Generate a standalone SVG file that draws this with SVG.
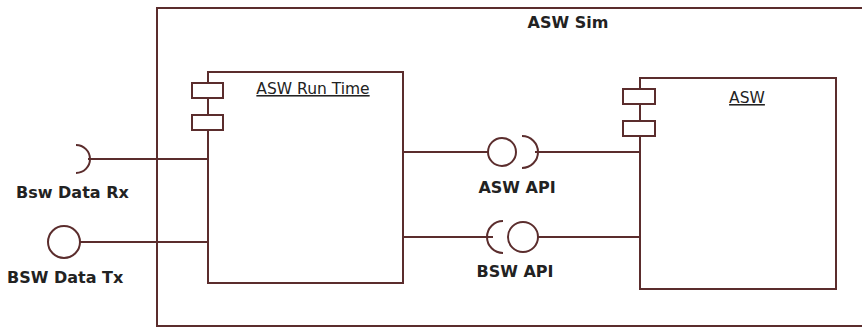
<svg xmlns="http://www.w3.org/2000/svg" width="862" height="328" viewBox="0 0 862 328">
<style>
.ln{fill:none;stroke:#5b2d2d;stroke-width:2}
.box{fill:#fff;stroke:#5b2d2d;stroke-width:2}
.lb{font-family:"DejaVu Sans",sans-serif;font-weight:bold;font-size:16px;fill:#222}
.nm{font-family:"DejaVu Sans",sans-serif;font-size:15.5px;fill:#222;text-decoration:underline}
</style>
<rect width="862" height="328" fill="#fff"/>
<g id="asw-sim">
<rect class="box" x="157" y="8" width="720" height="318"/>
<text class="lb" x="568" y="28" text-anchor="middle">ASW Sim</text>
</g>
<g id="connectors">
<line class="ln" x1="88" y1="159" x2="208" y2="159"/>
<line class="ln" x1="80" y1="242" x2="208" y2="242"/>
<line class="ln" x1="403" y1="152" x2="488" y2="152"/>
<line class="ln" x1="535" y1="152" x2="640" y2="152"/>
<line class="ln" x1="403" y1="237" x2="493" y2="237"/>
<line class="ln" x1="538" y1="237" x2="640" y2="237"/>
</g>
<g id="bsw-data-rx">
<path class="ln" d="M76 145 A14 14 0 0 1 76 173"/>
<text class="lb" x="16" y="198">Bsw Data Rx</text>
</g>
<g id="bsw-data-tx">
<circle class="ln" cx="64" cy="242" r="16"/>
<text class="lb" x="7" y="283">BSW Data Tx</text>
</g>
<g id="asw-run-time">
<rect class="box" x="208" y="72" width="195" height="211"/>
<rect class="box" x="192" y="83" width="31" height="15"/>
<rect class="box" x="192" y="115" width="31" height="15"/>
<text class="nm" x="313" y="94" text-anchor="middle">ASW Run Time</text>
</g>
<g id="asw-api">
<circle class="ln" cx="502" cy="152" r="14"/>
<path class="ln" d="M522 136 A16 16 0 0 1 522 168"/>
<text class="lb" x="517" y="193" text-anchor="middle">ASW API</text>
</g>
<g id="bsw-api">
<circle class="ln" cx="523" cy="237" r="15"/>
<path class="ln" d="M503 221 A16 16 0 0 0 503 253"/>
<text class="lb" x="515" y="277" text-anchor="middle">BSW API</text>
</g>
<g id="asw">
<rect class="box" x="640" y="78" width="196" height="211"/>
<rect class="box" x="623" y="89" width="32" height="15"/>
<rect class="box" x="623" y="121" width="32" height="15"/>
<text class="nm" x="747" y="103" text-anchor="middle">ASW</text>
</g>
</svg>
